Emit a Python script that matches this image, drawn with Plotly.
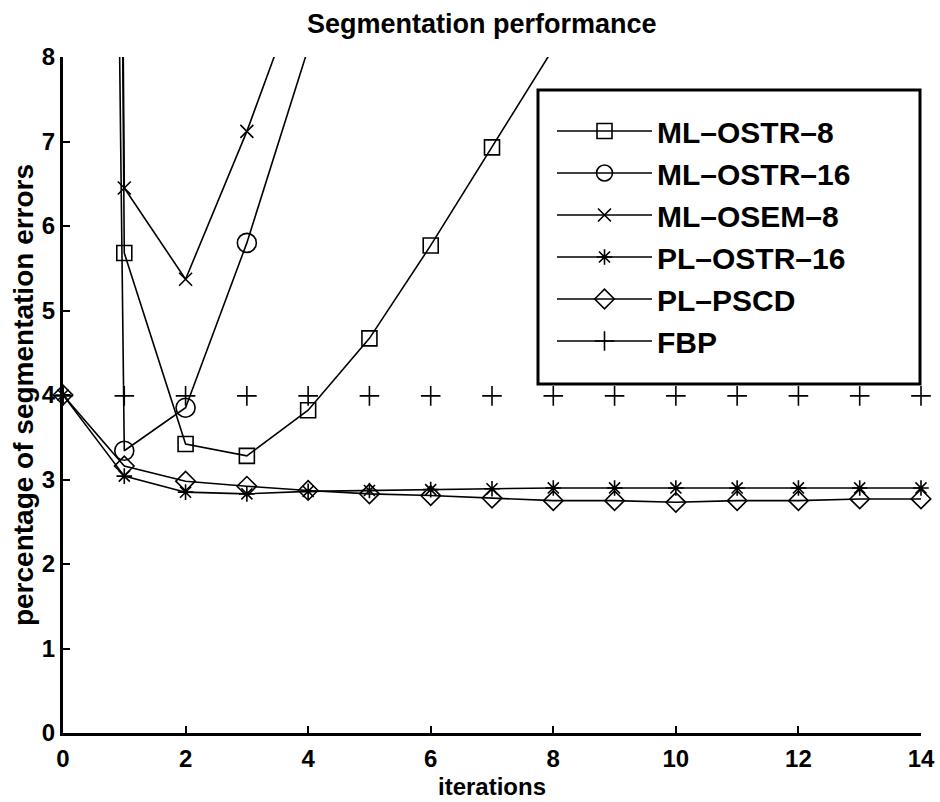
import plotly.graph_objects as go

# ---- data ----
iterations = [0, 1, 2, 3, 4, 5, 6, 7, 8, 9, 10, 11, 12, 13, 14]
ml_ostr_8 = [100, 5.68, 3.42, 3.28, 3.82, 4.67, 5.77, 6.93, 8.1, None, None, None, None, None, None]
ml_ostr_16 = [65, 3.34, 3.85, 5.80, 8.1, None, None, None, None, None, None, None, None, None, None]
ml_osem_8 = [100, 6.45, 5.37, 7.12, 9.1, None, None, None, None, None, None, None, None, None, None]
pl_ostr_16 = [4.0, 3.04, 2.85, 2.83, 2.86, 2.87, 2.88, 2.89, 2.9, 2.9, 2.9, 2.9, 2.9, 2.9, 2.9]
pl_pscd = [4.0, 3.16, 2.98, 2.92, 2.87, 2.83, 2.81, 2.78, 2.75, 2.75, 2.73, 2.75, 2.75, 2.77, 2.77]
fbp = [3.99, 3.99, 3.99, 3.99, 3.99, 3.99, 3.99, 3.99, 3.99, 3.99, 3.99, 3.99, 3.99, 3.99, 3.99]

x_ticks = [0, 2, 4, 6, 8, 10, 12, 14]
y_ticks = [0, 1, 2, 3, 4, 5, 6, 7, 8]

FONT = "Liberation Sans, Arial, Helvetica, sans-serif"
BLACK = "black"

series = [
    ("ML–OSTR–8", ml_ostr_8, "square-open", 15, True),
    ("ML–OSTR–16", ml_ostr_16, "circle-open", 19, True),
    ("ML–OSEM–8", ml_osem_8, "x-thin-open", 13, True),
    ("PL–OSTR–16", pl_ostr_16, "asterisk-open", 13, False),
    ("PL–PSCD", pl_pscd, "diamond-open", 15, False),
]

fig = go.Figure()
for name, vals, sym, size, clip in series:
    fig.add_trace(go.Scatter(
        x=iterations, y=vals, name=name, mode="lines+markers",
        line=dict(color=BLACK, width=1.6),
        marker=dict(symbol=sym, size=size, color=BLACK, line=dict(color=BLACK, width=1.6)),
        cliponaxis=clip, connectgaps=False,
    ))

# FBP: markers only in the plot
fig.add_trace(go.Scatter(
    x=iterations, y=fbp, name="FBP", mode="markers", showlegend=False,
    marker=dict(symbol="cross-thin-open", size=14, color=BLACK, line=dict(color=BLACK, width=1.6)),
    cliponaxis=False,
))
# FBP legend key (line + marker), no points
fig.add_trace(go.Scatter(
    x=[None], y=[None], name="FBP", mode="lines+markers",
    line=dict(color=BLACK, width=1.6),
    marker=dict(symbol="cross-thin-open", size=14, color=BLACK, line=dict(color=BLACK, width=1.6)),
))

axis_common = dict(
    showline=True, linewidth=3, linecolor=BLACK, mirror=False,
    ticks="inside", ticklen=7, tickwidth=2, tickcolor=BLACK,
    showgrid=False, zeroline=False,
    tickfont=dict(family=FONT, size=24, color=BLACK, weight="bold"),
)

fig.update_layout(
    width=940, height=802,
    margin=dict(l=63, r=19, t=57, b=69, autoexpand=False),
    paper_bgcolor="white", plot_bgcolor="white",
    font=dict(family=FONT, color=BLACK),
    title=dict(
        text="Segmentation performance",
        font=dict(family=FONT, size=27, color=BLACK, weight="bold"),
        x=0.488, xref="paper", xanchor="center",
        y=1 - 24 / 802, yref="container", yanchor="middle",
    ),
    xaxis=dict(
        range=[0, 14], tickvals=x_ticks, ticktext=[str(v) for v in x_ticks],
        title=dict(text="iterations", standoff=8,
                   font=dict(family=FONT, size=24, color=BLACK, weight="bold")),
        ticklabelstandoff=2,
        **axis_common,
    ),
    yaxis=dict(
        range=[0, 8], tickvals=y_ticks, ticktext=[str(v) for v in y_ticks],
        title=dict(text="percentage of segmentation errors", standoff=1,
                   font=dict(family=FONT, size=28, color=BLACK, weight="bold")),
        **axis_common,
    ),
    legend=dict(
        x=(552 - 63) / 858, y=(733 - 105) / 676, xanchor="left", yanchor="top",
        bgcolor="rgba(0,0,0,0)", borderwidth=0,
        font=dict(family=FONT, size=30, color=BLACK, weight="bold"),
        itemwidth=95, tracegroupgap=0,
    ),
    shapes=[dict(
        type="rect", xref="paper", yref="paper",
        x0=(538 - 63) / 858, x1=(920 - 63) / 858,
        y0=(733 - 384) / 676, y1=(733 - 90) / 676,
        line=dict(color=BLACK, width=3), fillcolor="white", layer="below",
    )],
)

fig.write_html("out.html", config={"displayModeBar": False},
               post_script="document.body.style.margin='0px';")
